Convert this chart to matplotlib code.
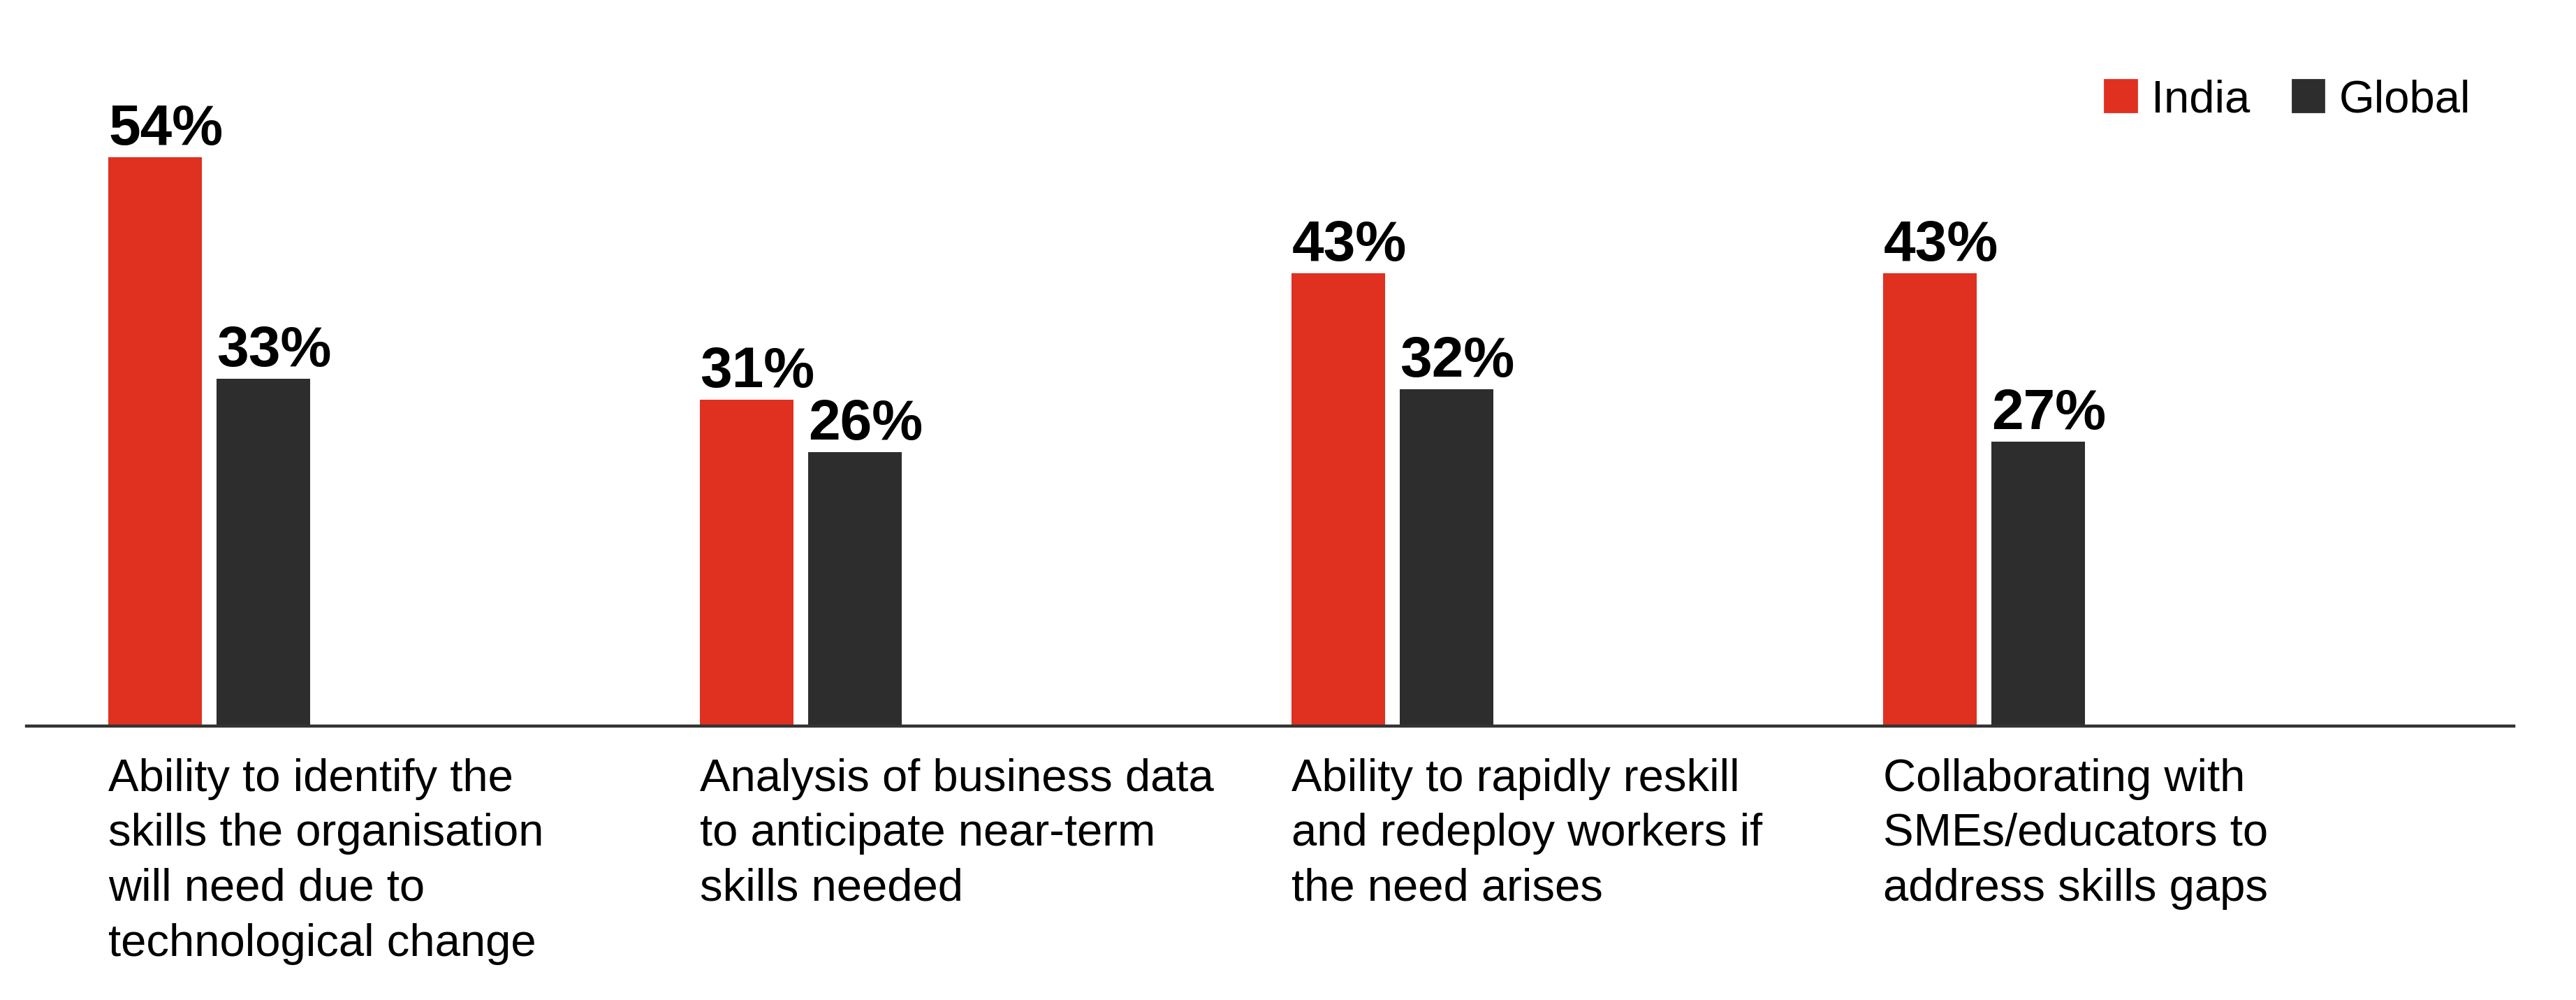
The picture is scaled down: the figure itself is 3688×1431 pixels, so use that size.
from matplotlib import pyplot as plt
from matplotlib.patches import Patch
import numpy as np

categories = [
    "Ability to identify the\nskills the organisation\nwill need due to\ntechnological change",
    "Analysis of business data\nto anticipate near-term\nskills needed",
    "Ability to rapidly reskill\nand redeploy workers if\nthe need arises",
    "Collaborating with\nSMEs/educators to\naddress skills gaps",
]
india = [54, 31, 43, 43]
global_vals = [33, 26, 32, 27]
series_names = ["India", "Global"]

RED = "#e03020"
DARK = "#2d2d2d"

plt.rcParams["font.family"] = ["Liberation Sans", "DejaVu Sans"]

W, H = 3688, 1431
fig = plt.figure(figsize=(W / 200, H / 200), dpi=200)
# axes box in pixels: x 38..3599, baseline at y=1039 from top, 60% span = 904 px
ax = fig.add_axes([38 / W, 1 - 1039 / H, (3599 - 38) / W, 904 / H])

x = np.arange(len(categories))
width = 0.158
offset = 0.0915

ax.bar(x - offset, india, width, color=RED)
ax.bar(x + offset, global_vals, width, color=DARK)

ax.set_xlim(-0.309, 3.895)
ax.set_ylim(0, 60)

for i in range(len(categories)):
    for xc, v in [(x[i] - offset, india[i]), (x[i] + offset, global_vals[i])]:
        ax.annotate(f"{v}%", (xc - width / 2, v), xytext=(0, 6.5), textcoords="offset points",
                    ha="left", va="baseline", fontsize=29.5, fontweight="bold", color="black")
    ax.annotate(categories[i], (x[i] - offset - width / 2, 0), xytext=(0, -16.5), textcoords="offset points",
                ha="left", va="top", fontsize=23.5, color="black", linespacing=1.395)

for side in ["top", "right", "left"]:
    ax.spines[side].set_visible(False)
ax.spines["bottom"].set_color("#333333")
ax.spines["bottom"].set_linewidth(1.6)
ax.set_xticks([])
ax.set_yticks([])

handles = [Patch(color=RED, label=series_names[0]), Patch(color=DARK, label=series_names[1])]
fig.legend(handles=handles, loc="center right", bbox_to_anchor=(0.959, 0.9), ncol=2, frameon=False,
           fontsize=23.5, handlelength=0.7, handleheight=0.7, handletextpad=0.32,
           columnspacing=0.93, borderpad=0, borderaxespad=0)

fig.savefig("out.png", dpi=200)
plt.close()
